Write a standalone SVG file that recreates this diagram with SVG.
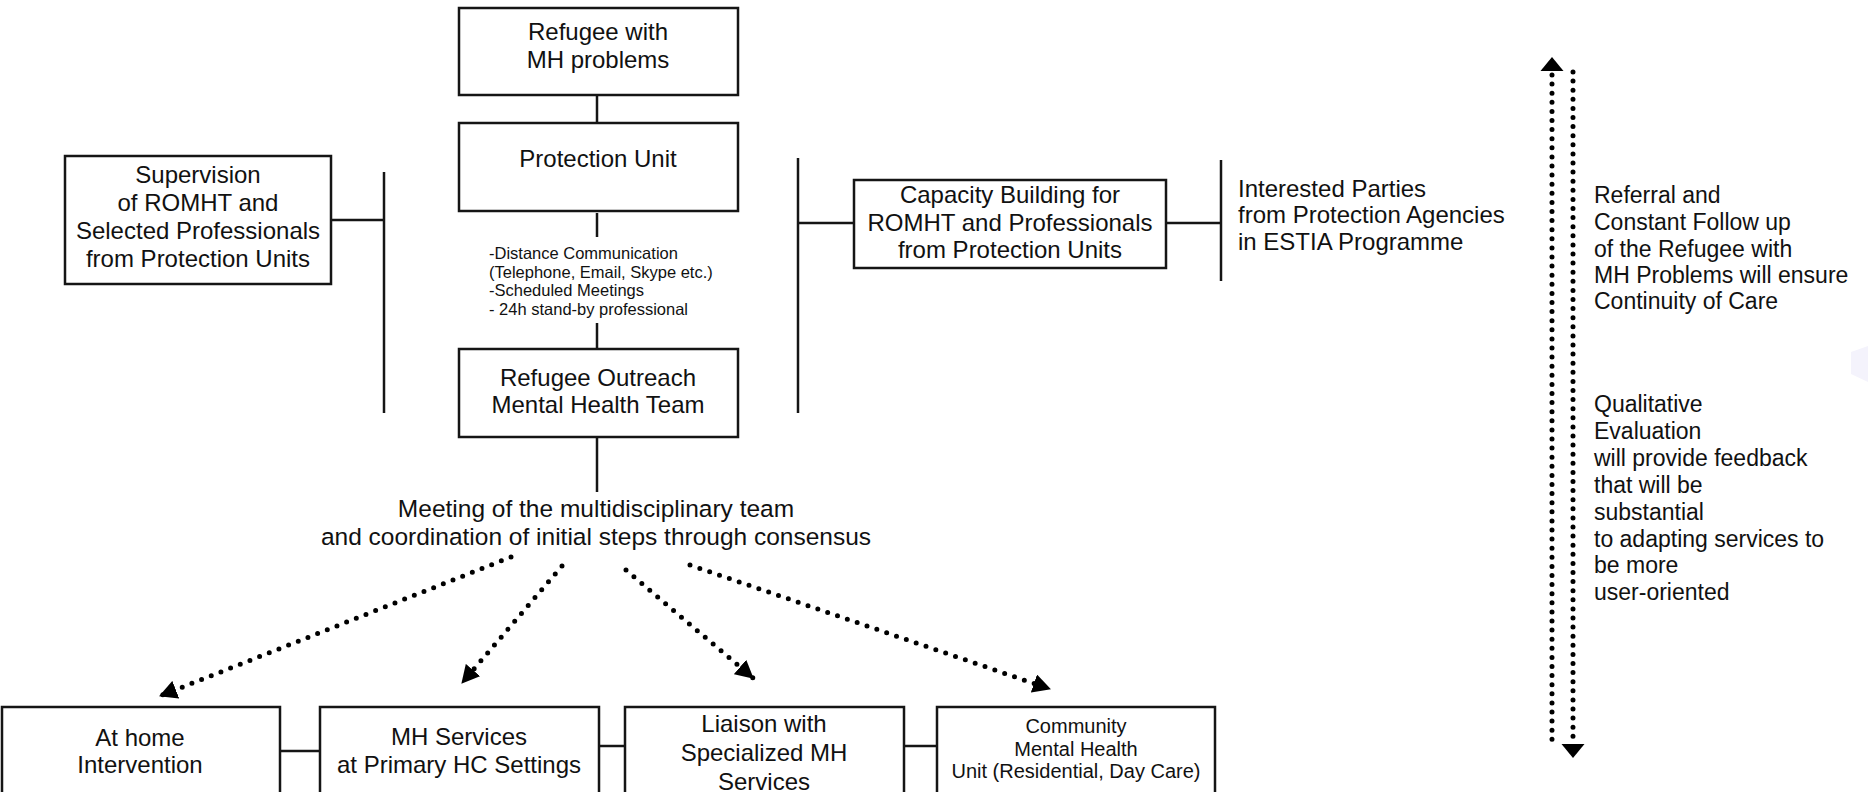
<svg xmlns="http://www.w3.org/2000/svg" width="1868" height="792" viewBox="0 0 1868 792">
<style>
  .box { fill: #ffffff; stroke: #151515; stroke-width: 2.5; }
  .ln { fill: none; stroke: #151515; stroke-width: 2.5; }
  .dot { fill: none; stroke: #000000; stroke-width: 5; stroke-linecap: round; stroke-dasharray: 0 10.4; }
  .vdot { fill: none; stroke: #000000; stroke-width: 5; stroke-linecap: round; stroke-dasharray: 0 9.1; }
  .t { font-family: "Liberation Sans", Arial, sans-serif; font-size: 24px; fill: #111111; }
  .c { text-anchor: middle; }
  .s { font-size: 16.5px; }
  .r { font-size: 23px; }
  .m { font-size: 20px; }
  .head { fill: #000000; }
</style>
<defs>
  <marker id="arr" viewBox="0 0 18 19" refX="17" refY="9.5" markerWidth="18" markerHeight="19" markerUnits="userSpaceOnUse" orient="auto">
    <path d="M0,0 L18,9.5 L0,19 z" fill="#000000"/>
  </marker>
</defs>

<polygon points="1851,352 1868,346 1868,382 1851,374" fill="#f4f3fc"/>

<g id="connectors">
  <line class="ln" x1="597" y1="95" x2="597" y2="123"/>
  <line class="ln" x1="597" y1="213" x2="597" y2="237"/>
  <line class="ln" x1="597" y1="323" x2="597" y2="349"/>
  <line class="ln" x1="597" y1="437" x2="597" y2="492"/>
  <line class="ln" x1="384" y1="172" x2="384" y2="413"/>
  <line class="ln" x1="331" y1="220" x2="384" y2="220"/>
  <line class="ln" x1="798" y1="158" x2="798" y2="413"/>
  <line class="ln" x1="798" y1="223" x2="854" y2="223"/>
  <line class="ln" x1="1166" y1="223" x2="1221" y2="223"/>
  <line class="ln" x1="1221" y1="160" x2="1221" y2="281"/>
  <line class="ln" x1="280" y1="751" x2="320" y2="751"/>
  <line class="ln" x1="599" y1="746" x2="625" y2="746"/>
  <line class="ln" x1="904" y1="746" x2="937" y2="746"/>
  <line class="dot" x1="511" y1="557" x2="160" y2="696" marker-end="url(#arr)"/>
  <line class="dot" x1="562" y1="566" x2="462" y2="683" marker-end="url(#arr)"/>
  <line class="dot" x1="626" y1="570" x2="753" y2="678" marker-end="url(#arr)"/>
  <line class="dot" x1="690" y1="565" x2="1050" y2="689" marker-end="url(#arr)"/>
  <line class="vdot" x1="1552" y1="75" x2="1552" y2="744"/>
  <polygon class="head" points="1552,57 1563.5,71 1540.5,71"/>
  <line class="vdot" x1="1573" y1="72" x2="1573" y2="740"/>
  <polygon class="head" points="1573,758 1584.5,744 1561.5,744"/>
</g>

<g id="refugee">
  <rect class="box" x="459" y="8" width="279" height="87"/>
  <text class="t c" x="598" y="40">Refugee with</text>
  <text class="t c" x="598" y="68">MH problems</text>
</g>

<g id="protection-unit">
  <rect class="box" x="459" y="123" width="279" height="88"/>
  <text class="t c" x="598" y="167">Protection Unit</text>
</g>

<g id="communication">
  <text class="t s" x="489" y="259">-Distance Communication</text>
  <text class="t s" x="489" y="278">(Telephone, Email, Skype etc.)</text>
  <text class="t s" x="489" y="296">-Scheduled Meetings</text>
  <text class="t s" x="489" y="315">- 24h stand-by professional</text>
</g>

<g id="romht">
  <rect class="box" x="459" y="349" width="279" height="88"/>
  <text class="t c" x="598" y="386">Refugee Outreach</text>
  <text class="t c" x="598" y="413">Mental Health Team</text>
</g>

<g id="supervision">
  <rect class="box" x="65" y="156" width="266" height="128"/>
  <text class="t c" x="198" y="183">Supervision</text>
  <text class="t c" x="198" y="211">of ROMHT and</text>
  <text class="t c" x="198" y="239">Selected Professionals</text>
  <text class="t c" x="198" y="267">from Protection Units</text>
</g>

<g id="capacity">
  <rect class="box" x="854" y="180" width="312" height="88"/>
  <text class="t c" x="1010" y="203">Capacity Building for</text>
  <text class="t c" x="1010" y="231">ROMHT and Professionals</text>
  <text class="t c" x="1010" y="258">from Protection Units</text>
</g>

<g id="interested">
  <text class="t" x="1238" y="197">Interested Parties</text>
  <text class="t" x="1238" y="223">from Protection Agencies</text>
  <text class="t" x="1238" y="250">in ESTIA Programme</text>
</g>

<g id="meeting">
  <text class="t c" x="596" y="517" style="font-size:24.5px">Meeting of the multidisciplinary team</text>
  <text class="t c" x="596" y="545" style="font-size:24.5px">and coordination of initial steps through consensus</text>
</g>

<g id="referral">
  <text class="t r" x="1594" y="203">Referral and</text>
  <text class="t r" x="1594" y="230">Constant Follow up</text>
  <text class="t r" x="1594" y="257">of the Refugee with</text>
  <text class="t r" x="1594" y="283">MH Problems will ensure</text>
  <text class="t r" x="1594" y="309">Continuity of Care</text>
</g>

<g id="evaluation">
  <text class="t r" x="1594" y="412">Qualitative</text>
  <text class="t r" x="1594" y="439">Evaluation</text>
  <text class="t r" x="1594" y="466">will provide feedback</text>
  <text class="t r" x="1594" y="493">that will be</text>
  <text class="t r" x="1594" y="520">substantial</text>
  <text class="t r" x="1594" y="547">to adapting services to</text>
  <text class="t r" x="1594" y="573">be more</text>
  <text class="t r" x="1594" y="600">user-oriented</text>
</g>

<g id="at-home">
  <rect class="box" x="2" y="707" width="278" height="100"/>
  <text class="t c" x="140" y="746">At home</text>
  <text class="t c" x="140" y="773">Intervention</text>
</g>

<g id="primary-hc">
  <rect class="box" x="320" y="707" width="279" height="100"/>
  <text class="t c" x="459" y="745">MH Services</text>
  <text class="t c" x="459" y="773">at Primary HC Settings</text>
</g>

<g id="liaison">
  <rect class="box" x="625" y="707" width="279" height="100"/>
  <text class="t c" x="764" y="732">Liaison with</text>
  <text class="t c" x="764" y="761">Specialized MH</text>
  <text class="t c" x="764" y="790">Services</text>
</g>

<g id="community">
  <rect class="box" x="937" y="707" width="278" height="100"/>
  <text class="t c m" x="1076" y="733">Community</text>
  <text class="t c m" x="1076" y="756">Mental Health</text>
  <text class="t c m" x="1076" y="778">Unit (Residential, Day Care)</text>
</g>
</svg>
